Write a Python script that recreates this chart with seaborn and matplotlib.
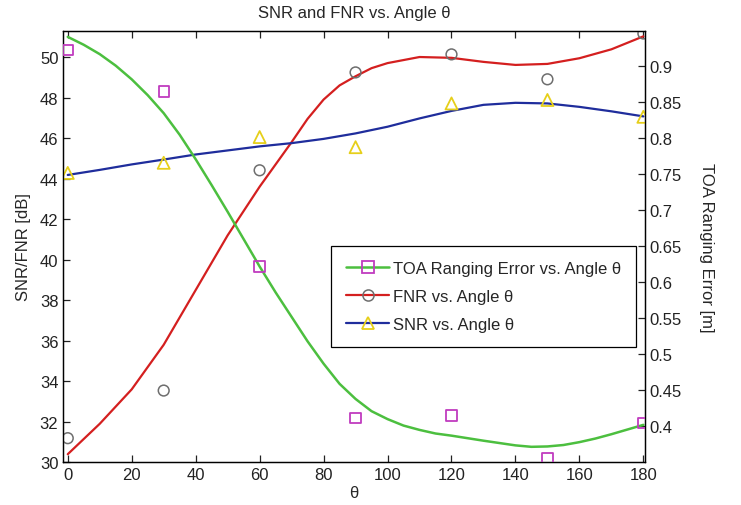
import numpy as np
import matplotlib
matplotlib.use("Agg")
import matplotlib.pyplot as plt
from matplotlib.lines import Line2D
from matplotlib.ticker import FuncFormatter
import seaborn as sns

# measured points (every 30 degrees)
angles = [0, 30, 60, 90, 120, 150, 180]
toa_pts = [0.922, 0.864, 0.621, 0.411, 0.414, 0.355, 0.404]
fnr_pts = [31.19, 33.54, 44.41, 49.24, 50.13, 48.90, 51.16]
snr_pts = [44.28, 44.78, 46.05, 45.55, 47.71, 47.88, 47.05]

# fitted curves
toa_fit_angles = [0, 5, 10, 15, 20, 25, 30, 35, 40, 45, 50, 55, 60, 65, 70, 75, 80,
                  85, 90, 95, 100, 105, 110, 115, 120, 130, 140, 145, 150, 155,
                  160, 165, 170, 180]
toa_fit = [0.940, 0.929, 0.916, 0.900, 0.881, 0.859, 0.834, 0.804, 0.770, 0.734,
           0.697, 0.659, 0.621, 0.585, 0.551, 0.517, 0.486, 0.458, 0.437, 0.420,
           0.409, 0.400, 0.394, 0.389, 0.386, 0.379, 0.3725, 0.3705, 0.371, 0.373,
           0.377, 0.382, 0.388, 0.401]

fnr_fit_angles = [0, 10, 20, 30, 40, 50, 60, 70, 75, 80, 85, 90, 95, 100,
                  110, 120, 130, 140, 150, 160, 170, 180]
fnr_fit = [30.40, 31.90, 33.60, 35.80, 38.50, 41.20, 43.60, 45.80, 46.95, 47.90,
           48.60, 49.05, 49.45, 49.70, 50.00, 49.96, 49.76, 49.61, 49.66, 49.94,
           50.38, 51.02]

snr_fit_angles = list(range(0, 181, 10))
snr_fit = [44.18, 44.43, 44.70, 44.94, 45.19, 45.39, 45.59, 45.75, 45.96, 46.23,
           46.56, 46.97, 47.34, 47.64, 47.74, 47.71, 47.54, 47.32, 47.07]

left_ticks = [30, 32, 34, 36, 38, 40, 42, 44, 46, 48, 50]
right_ticks = [0.4, 0.45, 0.5, 0.55, 0.6, 0.65, 0.7, 0.75, 0.8, 0.85, 0.9]
x_ticks = [0, 20, 40, 60, 80, 100, 120, 140, 160, 180]

GREEN = "#4cbf3f"
RED = "#d41f1f"
BLUE = "#1f2d9c"
MAGENTA = "#c03cbf"
GRAY = "#6e6e6e"
YELLOW = "#e6cf1a"

sns.set_style("ticks")
plt.rcParams["font.family"] = ["Liberation Sans", "DejaVu Sans"]
plt.rcParams["xtick.direction"] = "in"
plt.rcParams["ytick.direction"] = "in"

fig = plt.figure(figsize=(7.41, 5.06), dpi=100)
ax = fig.add_axes([0.0854, 0.0844, 0.785, 0.853])
ax2 = ax.twinx()

# left axis: FNR and SNR
sns.lineplot(x=fnr_fit_angles, y=fnr_fit, ax=ax, color=RED, linewidth=1.6)
sns.lineplot(x=snr_fit_angles, y=snr_fit, ax=ax, color=BLUE, linewidth=1.6)
sns.scatterplot(x=angles, y=fnr_pts, ax=ax, marker="o", s=60,
                facecolor="none", edgecolor=GRAY, linewidth=1.1, zorder=3)
sns.scatterplot(x=angles, y=snr_pts, ax=ax, marker="^", s=75,
                facecolor="none", edgecolor=YELLOW, linewidth=1.3, zorder=3)

# right axis: TOA ranging error
sns.lineplot(x=toa_fit_angles, y=toa_fit, ax=ax2, color=GREEN, linewidth=1.8)
sns.scatterplot(x=angles, y=toa_pts, ax=ax2, marker="s", s=55,
                facecolor="none", edgecolor=MAGENTA, linewidth=1.3, zorder=3)

ax.set_xlim(-1.4, 180.5)
ax.set_ylim(30, 51.3)
ax2.set_ylim(0.349, 0.9486)
ax.set_xticks(x_ticks)
ax.set_yticks(left_ticks)
ax2.set_yticks(right_ticks)
ax2.yaxis.set_major_formatter(FuncFormatter(lambda v, p: "%g" % round(v, 2)))

for a in (ax, ax2):
    for sp in a.spines.values():
        sp.set_color("black")
        sp.set_linewidth(0.9)
ax.tick_params(axis="x", top=True, length=5, width=0.9, labelsize=12, colors="#222222")
ax.tick_params(axis="y", left=True, right=False, length=5, width=0.9, labelsize=12, colors="#222222")
ax2.tick_params(axis="y", right=True, left=False, length=5, width=0.9, labelsize=12, colors="#222222")

ax.set_xlabel("θ", fontsize=12, labelpad=2)
ax.set_ylabel("SNR/FNR [dB]", fontsize=12, labelpad=6)
ax2.set_ylabel("TOA Ranging Error [m]", fontsize=12, labelpad=12, rotation=270, va="bottom")
ax.set_title("SNR and FNR vs. Angle θ", fontsize=12, pad=10)

handles = [
    Line2D([], [], color=GREEN, linewidth=1.8, marker="s", markersize=8,
           markerfacecolor="none", markeredgecolor=MAGENTA, markeredgewidth=1.3),
    Line2D([], [], color=RED, linewidth=1.6, marker="o", markersize=8,
           markerfacecolor="none", markeredgecolor=GRAY, markeredgewidth=1.1),
    Line2D([], [], color=BLUE, linewidth=1.6, marker="^", markersize=9,
           markerfacecolor="none", markeredgecolor=YELLOW, markeredgewidth=1.3),
]
labels = ["TOA Ranging Error vs. Angle θ", "FNR vs. Angle θ", "SNR vs. Angle θ"]
leg = ax2.legend(handles, labels, loc="upper left", bbox_to_anchor=(0.46, 0.502),
                 fontsize=12, frameon=True, fancybox=False, framealpha=1,
                 edgecolor="black", numpoints=1, handlelength=2.6,
                 handletextpad=0.2, labelspacing=0.8, borderpad=0.9,
                 borderaxespad=0)
leg.get_frame().set_linewidth(0.9)

fig.savefig("out.png", dpi=100)
